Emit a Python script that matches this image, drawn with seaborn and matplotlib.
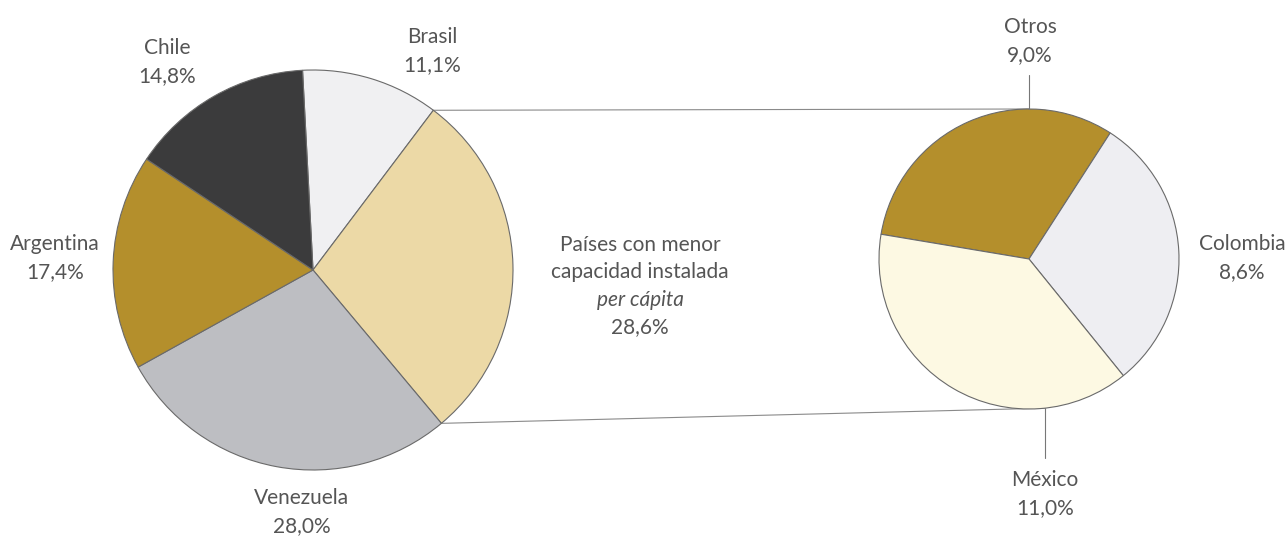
import numpy as np
import matplotlib.pyplot as plt
import seaborn as sns

# datos
paises = ["Brasil", "Países con menor\ncapacidad instalada\nper cápita", "Venezuela", "Argentina", "Chile"]
valores = [11.1, 28.6, 28.0, 17.4, 14.8]
colores = ["#f0f0f2", "#ecd9a6", "#bdbec2", "#b48f2c", "#3b3b3c"]

otros_paises = ["Otros", "Colombia", "México"]
otros_valores = [9.0, 8.6, 11.0]
otros_colores = ["#b48f2c", "#eeeef2", "#fdf9e3"]

sns.set_theme(style="white")
plt.rcParams["font.family"] = ["Lato", "DejaVu Sans"]

W, H = 1288, 543
fig = plt.figure(figsize=(W / 100, H / 100), dpi=100)
ax = fig.add_axes([0, 0, 1, 1])

txt = dict(color="#555555", fontsize=15, ha="center", va="center")
borde = dict(edgecolor="#6a6a6a", linewidth=0.8)

# pie principal
c1, r1, start1 = (313, H - 270), 200, 93
w1, _ = ax.pie(valores, colors=colores, startangle=start1, counterclock=False,
               center=c1, radius=r1, wedgeprops=borde, frame=True)

# pie secundario (desglose de países con menor capacidad)
c2, r2, start2 = (1029, H - 259), 150, 170.5
w2, _ = ax.pie(otros_valores, colors=otros_colores, startangle=start2, counterclock=False,
               center=c2, radius=r2, wedgeprops=borde, frame=True)
ax.set_xlim(0, W)
ax.set_ylim(0, H)
ax.set_aspect("equal")
ax.axis("off")

# líneas de conexión
a_top = np.deg2rad(w1[1].theta2)
a_bot = np.deg2rad(w1[1].theta1)
p_top = (c1[0] + r1 * np.cos(a_top), c1[1] + r1 * np.sin(a_top))
p_bot = (c1[0] + r1 * np.cos(a_bot), c1[1] + r1 * np.sin(a_bot))
q_top = (c2[0], c2[1] + r2)
q_bot = (c2[0] + r2 * np.cos(np.deg2rad(-84)), c2[1] + r2 * np.sin(np.deg2rad(-84)))
ax.plot([p_top[0], q_top[0]], [p_top[1], q_top[1]], color="#8a8a8a", lw=0.8, zorder=0)
ax.plot([p_bot[0], q_bot[0]], [p_bot[1], q_bot[1]], color="#8a8a8a", lw=0.8, zorder=0)

# guías de etiquetas del pie secundario
ax.plot([q_top[0], q_top[0]], [q_top[1], H - 75], color="#777777", lw=0.8)
ax.plot([q_bot[0], q_bot[0]], [q_bot[1], H - 458], color="#777777", lw=0.8)

# etiquetas
fmt = lambda v: f"{v:.1f}%".replace(".", ",")
ls = 1.45
ax.text(432, H - 51, f"Brasil\n{fmt(valores[0])}", linespacing=ls, **txt)
ax.text(167, H - 62, f"Chile\n{fmt(valores[4])}", linespacing=ls, **txt)
ax.text(55, H - 258, f"Argentina\n{fmt(valores[3])}", linespacing=ls, **txt)
ax.text(302, H - 512, f"Venezuela\n{fmt(valores[2])}", linespacing=ls, **txt)
ax.text(640, H - 245, "Países con menor", **txt)
ax.text(640, H - 272, "capacidad instalada", **txt)
ax.text(640, H - 300, "per cápita", style="italic", **txt)
ax.text(640, H - 327, fmt(valores[1]), **txt)

ax.text(1030, H - 41, f"Otros\n{fmt(otros_valores[0])}", linespacing=ls, **txt)
ax.text(1242, H - 258, f"Colombia\n{fmt(otros_valores[1])}", linespacing=ls, **txt)
ax.text(1045, H - 494, f"México\n{fmt(otros_valores[2])}", linespacing=ls, **txt)

fig.savefig("out.png", dpi=100, facecolor="white")
